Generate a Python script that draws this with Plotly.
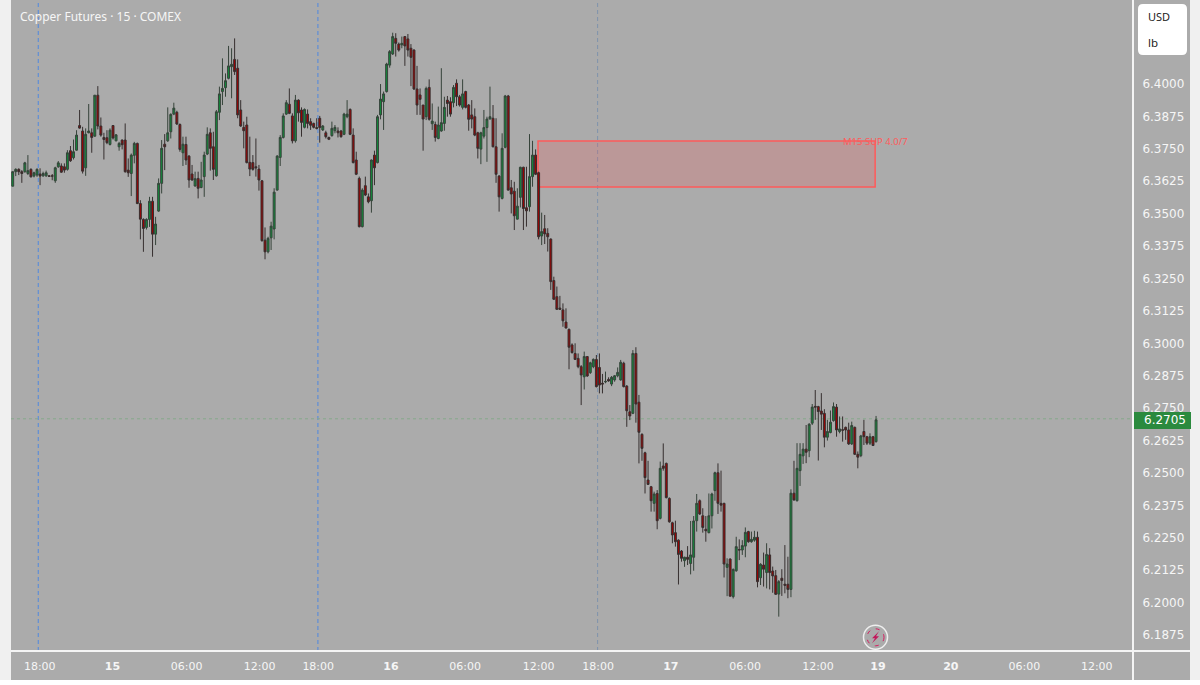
import plotly.graph_objects as go

opens = [6.3602,6.3658,6.3667,6.3658,6.3658,6.3651,6.3667,6.3641,6.3645,6.3649,
6.3642,6.3642,6.3642,6.3642,6.3623,6.3677,6.3680,6.3677,6.3667,6.3739,
6.3712,6.3741,6.3836,6.3815,6.3673,6.3808,6.3808,6.3795,6.3953,6.3834,
6.3790,6.3789,6.3763,6.3836,6.3777,6.3754,6.3780,6.3780,6.3664,6.3651,
6.3721,6.3767,6.3535,6.3474,6.3443,6.3474,6.3544,6.3417,6.3506,6.3613,
6.3764,6.3777,6.3812,6.3880,6.3887,6.3840,6.3731,6.3763,6.3718,6.3649,
6.3603,6.3632,6.3597,6.3639,6.3726,6.3808,6.3754,6.3642,6.3887,6.3967,
6.3982,6.4018,6.4063,6.4091,6.4057,6.3896,6.3829,6.3838,6.3694,6.3693,
6.3677,6.3668,6.3623,6.3394,6.3349,6.3403,6.3437,6.3587,6.3713,6.3790,
6.3880,6.3918,6.3873,6.3777,6.3934,6.3896,6.3829,6.3880,6.3851,6.3844,
6.3828,6.3864,6.3819,6.3808,6.3790,6.3797,6.3816,6.3815,6.3815,6.3802,
6.3870,6.3898,6.3799,6.3703,6.3632,6.3446,6.3604,6.3561,6.3546,6.3722,
6.3693,6.3877,6.3928,6.3967,6.4069,6.4112,6.4172,6.4150,6.4147,6.4179,
6.4170,6.4134,6.4127,6.3977,6.3954,6.3915,6.3870,6.3983,6.3843,6.3840,
6.3786,6.3815,6.3844,6.3934,6.3928,6.3924,6.3999,6.3947,6.3906,6.3967,
6.3915,6.3877,6.3870,6.3808,6.3745,6.3795,6.3828,6.3861,6.3864,6.3754,
6.3641,6.3555,6.3752,6.3950,6.3596,6.3583,6.3475,6.3559,6.3675,6.3519,
6.3523,6.3639,6.3722,6.3654,6.3410,6.3438,6.3420,6.3398,6.3238,6.3176,
6.3132,6.3125,6.3078,6.3050,6.2990,6.2957,6.2938,6.2906,6.2867,6.2945,
6.2883,6.2906,6.2934,6.2903,6.2842,6.2847,6.2857,6.2839,6.2855,6.2871,
6.2855,6.2919,6.2831,6.2732,6.2726,6.2957,6.2769,6.2645,6.2574,6.2469,
6.2443,6.2379,6.2417,6.2321,6.2523,6.2533,6.2398,6.2304,6.2266,6.2237,
6.2195,6.2158,6.2171,6.2147,6.2171,6.2312,6.2389,6.2331,6.2279,6.2266,
6.2331,6.2428,6.2497,6.2379,6.2379,6.2132,6.2164,6.2019,6.2119,6.2201,
6.2199,6.2214,6.2270,6.2231,6.2237,6.2248,6.2092,6.2141,6.2112,6.2180,
6.2118,6.2100,6.2029,6.2090,6.2067,6.2067,6.2047,6.2418,6.2389,6.2505,
6.2562,6.2588,6.2582,6.2688,6.2753,6.2752,6.2735,6.2726,6.2634,6.2652,
6.2698,6.2750,6.2656,6.2663,6.2672,6.2662,6.2608,6.2672,6.2568,6.2563,
6.2656,6.2636,6.2611,6.2636,6.2617]

highs = [6.3658,6.3671,6.3671,6.3664,6.3696,6.3722,6.3671,6.3658,6.3671,6.3671,
6.3658,6.3662,6.3645,6.3649,6.3677,6.3699,6.3690,6.3690,6.3741,6.3757,
6.3782,6.3818,6.3896,6.3831,6.3825,6.3919,6.3825,6.3953,6.3988,6.3867,
6.3808,6.3818,6.3825,6.3838,6.3803,6.3773,6.3782,6.3844,6.3709,6.3728,
6.3773,6.3770,6.3548,6.3478,6.3478,6.3561,6.3561,6.3484,6.3632,6.3780,
6.3803,6.3906,6.3883,6.3924,6.3893,6.3844,6.3793,6.3793,6.3722,6.3684,
6.3658,6.3658,6.3696,6.3735,6.3829,6.3825,6.3812,6.3896,6.3986,6.4095,
6.4037,6.4143,6.4134,6.4172,6.4091,6.3934,6.3851,6.3870,6.3793,6.3722,
6.3786,6.3684,6.3626,6.3443,6.3407,6.3465,6.3594,6.3722,6.3799,6.3883,
6.3934,6.3979,6.3883,6.3954,6.3937,6.3906,6.3902,6.3898,6.3864,6.3847,
6.3864,6.3873,6.3838,6.3816,6.3793,6.3851,6.3838,6.3829,6.3819,6.3885,
6.3934,6.3902,6.3825,6.3735,6.3639,6.3594,6.3639,6.3574,6.3705,6.3739,
6.3877,6.3996,6.3967,6.4078,6.4127,6.4194,6.4192,6.4156,6.4179,6.4181,
6.4189,6.4150,6.4130,6.4066,6.3979,6.3915,6.3986,6.4014,6.3921,6.3851,
6.3909,6.4057,6.3947,6.3950,6.3945,6.3992,6.4014,6.3954,6.4014,6.3970,
6.3919,6.3934,6.3902,6.3812,6.3812,6.3896,6.3870,6.3986,6.3915,6.3864,
6.3645,6.3806,6.3954,6.3954,6.3626,6.3619,6.3594,6.3677,6.3677,6.3677,
6.3803,6.3777,6.3744,6.3658,6.3500,6.3491,6.3440,6.3401,6.3253,6.3215,
6.3179,6.3150,6.3131,6.3053,6.2996,6.2996,6.2957,6.2912,6.2964,6.2947,
6.2925,6.2938,6.2951,6.2957,6.2878,6.2887,6.2865,6.2870,6.2874,6.2903,
6.2932,6.2925,6.2835,6.2758,6.2970,6.2981,6.2797,6.2649,6.2578,6.2543,
6.2446,6.2424,6.2430,6.2540,6.2610,6.2536,6.2402,6.2308,6.2312,6.2240,
6.2199,6.2173,6.2214,6.2311,6.2330,6.2415,6.2394,6.2360,6.2330,6.2417,
6.2420,6.2501,6.2533,6.2505,6.2381,6.2167,6.2167,6.2128,6.2250,6.2240,
6.2237,6.2286,6.2273,6.2270,6.2273,6.2270,6.2148,6.2189,6.2225,6.2206,
6.2135,6.2122,6.2083,6.2125,6.2218,6.2173,6.2433,6.2543,6.2611,6.2611,
6.2611,6.2681,6.2688,6.2762,6.2816,6.2755,6.2804,6.2742,6.2701,6.2737,
6.2768,6.2762,6.2714,6.2714,6.2675,6.2690,6.2694,6.2675,6.2579,6.2643,
6.2701,6.2639,6.2649,6.2639,6.2716]

lows = [6.3602,6.3641,6.3645,6.3615,6.3654,6.3645,6.3636,6.3636,6.3638,6.3606,
6.3638,6.3638,6.3638,6.3625,6.3615,6.3673,6.3654,6.3654,6.3662,6.3696,
6.3705,6.3739,6.3824,6.3651,6.3642,6.3806,6.3731,6.3793,6.3821,6.3793,
6.3705,6.3764,6.3759,6.3782,6.3775,6.3739,6.3744,6.3654,6.3638,6.3564,
6.3690,6.3533,6.3397,6.3349,6.3435,6.3445,6.3330,6.3375,6.3503,6.3574,
6.3664,6.3773,6.3786,6.3876,6.3838,6.3735,6.3680,6.3684,6.3596,6.3623,
6.3600,6.3555,6.3594,6.3561,6.3722,6.3662,6.3626,6.3639,6.3857,6.3915,
6.3947,6.4014,6.3941,6.4031,6.3864,6.3831,6.3748,6.3690,6.3641,6.3662,
6.3639,6.3585,6.3388,6.3320,6.3343,6.3356,6.3397,6.3585,6.3680,6.3786,
6.3877,6.3880,6.3767,6.3770,6.3851,6.3793,6.3825,6.3825,6.3819,6.3825,
6.3821,6.3770,6.3815,6.3786,6.3780,6.3793,6.3806,6.3790,6.3789,6.3799,
6.3864,6.3799,6.3690,6.3645,6.3443,6.3443,6.3564,6.3536,6.3500,6.3606,
6.3690,6.3860,6.3819,6.3963,6.4059,6.4108,6.4102,6.4121,6.4134,6.4066,
6.4102,6.3988,6.3973,6.3877,6.3877,6.3739,6.3857,6.3855,6.3819,6.3774,
6.3783,6.3812,6.3816,6.3870,6.3870,6.3906,6.3911,6.3909,6.3898,6.3902,
6.3816,6.3825,6.3795,6.3709,6.3687,6.3786,6.3696,6.3860,6.3752,6.3615,
6.3504,6.3551,6.3748,6.3585,6.3497,6.3433,6.3474,6.3520,6.3433,6.3446,
6.3504,6.3600,6.3645,6.3397,6.3375,6.3379,6.3350,6.3202,6.3163,6.3125,
6.3125,6.3060,6.3054,6.2896,6.2957,6.2932,6.2900,6.2758,6.2818,6.2867,
6.2878,6.2900,6.2826,6.2803,6.2803,6.2842,6.2848,6.2831,6.2848,6.2865,
6.2852,6.2826,6.2674,6.2700,6.2723,6.2690,6.2533,6.2543,6.2417,6.2450,
6.2347,6.2347,6.2279,6.2317,6.2505,6.2398,6.2304,6.2225,6.2212,6.2066,
6.2154,6.2134,6.2141,6.2105,6.2119,6.2270,6.2334,6.2266,6.2231,6.2263,
6.2282,6.2389,6.2338,6.2347,6.2093,6.2021,6.2019,6.2012,6.2115,6.2160,
6.2180,6.2171,6.2227,6.2227,6.2231,6.2055,6.2064,6.2058,6.2051,6.2047,
6.2034,6.2026,6.1942,6.2022,6.2032,6.2013,6.2017,6.2389,6.2386,6.2446,
6.2531,6.2534,6.2557,6.2681,6.2701,6.2544,6.2662,6.2595,6.2621,6.2649,
6.2694,6.2636,6.2649,6.2617,6.2624,6.2604,6.2604,6.2566,6.2514,6.2557,
6.2604,6.2604,6.2604,6.2600,6.2613]

closes = [6.3658,6.3667,6.3658,6.3651,6.3692,6.3662,6.3638,6.3654,6.3667,6.3641,
6.3651,6.3654,6.3640,6.3641,6.3673,6.3692,6.3656,6.3664,6.3731,6.3700,
6.3735,6.3799,6.3826,6.3660,6.3802,6.3815,6.3790,6.3953,6.3834,6.3799,
6.3782,6.3770,6.3818,6.3788,6.3800,6.3767,6.3762,6.3658,6.3654,6.3722,
6.3767,6.3535,6.3475,6.3439,6.3474,6.3544,6.3417,6.3456,6.3613,6.3748,
6.3754,6.3808,6.3879,6.3903,6.3842,6.3744,6.3764,6.3703,6.3626,6.3626,
6.3631,6.3594,6.3626,6.3722,6.3802,6.3748,6.3667,6.3889,6.3958,6.3979,
6.4009,6.4066,6.4072,6.4044,6.3877,6.3834,6.3816,6.3693,6.3668,6.3667,
6.3673,6.3626,6.3392,6.3349,6.3401,6.3448,6.3579,6.3718,6.3790,6.3873,
6.3924,6.3883,6.3777,6.3934,6.3885,6.3848,6.3898,6.3844,6.3837,6.3829,
6.3825,6.3828,6.3834,6.3793,6.3783,6.3825,6.3829,6.3808,6.3793,6.3880,
6.3880,6.3802,6.3693,6.3648,6.3446,6.3587,6.3568,6.3542,6.3703,6.3673,
6.3870,6.3938,6.3958,6.4073,6.4121,6.4179,6.4153,6.4127,6.4153,6.4143,
6.4127,6.4099,6.3977,6.3915,6.3937,6.3861,6.3979,6.3860,6.3853,6.3790,
6.3838,6.3847,6.3906,6.3921,6.3880,6.3983,6.3947,6.3915,6.3958,6.3906,
6.3860,6.3861,6.3799,6.3748,6.3808,6.3828,6.3861,6.3870,6.3754,6.3648,
6.3561,6.3748,6.3950,6.3587,6.3572,6.3488,6.3525,6.3675,6.3516,6.3507,
6.3639,6.3722,6.3648,6.3407,6.3427,6.3418,6.3407,6.3234,6.3166,6.3127,
6.3127,6.3083,6.3055,6.2981,6.2960,6.2934,6.2906,6.2874,6.2945,6.2870,
6.2921,6.2934,6.2829,6.2835,6.2839,6.2849,6.2851,6.2865,6.2871,6.2884,
6.2923,6.2829,6.2736,6.2716,6.2957,6.2762,6.2653,6.2591,6.2478,6.2452,
6.2389,6.2415,6.2312,6.2514,6.2514,6.2401,6.2308,6.2257,6.2231,6.2182,
6.2167,6.2171,6.2163,6.2180,6.2311,6.2379,6.2338,6.2286,6.2273,6.2331,
6.2415,6.2497,6.2379,6.2372,6.2145,6.2145,6.2021,6.2124,6.2212,6.2199,
6.2216,6.2267,6.2231,6.2240,6.2248,6.2077,6.2144,6.2125,6.2182,6.2112,
6.2099,6.2028,6.2077,6.2081,6.2063,6.2047,6.2418,6.2392,6.2514,6.2568,
6.2588,6.2576,6.2684,6.2750,6.2750,6.2733,6.2723,6.2634,6.2656,6.2692,
6.2752,6.2662,6.2666,6.2661,6.2662,6.2608,6.2679,6.2568,6.2557,6.2639,
6.2636,6.2611,6.2636,6.2602,6.2701]

tick_bars = [8.9,32.8,57.2,81.2,100.5,124.4,148.8,173,192.6,216.5,240.9,264.9,284.6,308.6,332.8,356.6]
tick_labels = ["18:00","<b>15</b>","06:00","12:00","18:00","<b>16</b>","06:00","12:00","18:00",
               "<b>17</b>","06:00","12:00","<b>19</b>","<b>20</b>","06:00","12:00"]
price_ticks = [6.4000,6.3875,6.3750,6.3625,6.3500,6.3375,6.3250,6.3125,6.3000,6.2875,
               6.2750,6.2625,6.2500,6.2375,6.2250,6.2125,6.2000,6.1875]
session_bars = [8.4, 100.4, 192.4]
zone_top, zone_bottom = 6.3776, 6.3599
zone_start, zone_end = 172.8, 283.7
zone_label = "M15 SUP 4.0/7"
last_price = 6.2705

W, H = 1200, 685
L, R, T, B = 11, 1133, 0, 651
def px(x): return (x - L) / (R - L)
def py(y): return (B - y) / (B - T)

fig = go.Figure(go.Candlestick(
    x=list(range(len(opens))), open=opens, high=highs, low=lows, close=closes,
    increasing=dict(fillcolor="#12893a", line=dict(color="#36433a", width=1)),
    decreasing=dict(fillcolor="#a00000", line=dict(color="#362f2f", width=1)),
    whiskerwidth=0, hoverinfo="skip", showlegend=False))

shapes = []
def paper(**k):
    shapes.append(dict(xref="paper", yref="paper", layer="below", **k))

# window frame strips
paper(type="rect", x0=px(0), x1=px(L), y0=py(0), y1=py(H), fillcolor="#f0f0f0", line_width=0)
paper(type="rect", x0=px(1190), x1=px(1200), y0=py(0), y1=py(H), fillcolor="#f0f0f0", line_width=0)
paper(type="rect", x0=px(0), x1=px(1200), y0=py(680), y1=py(H), fillcolor="#ffffff", line_width=0)

for b in session_bars:
    shapes.append(dict(type="line", xref="x", yref="paper", x0=b, x1=b, y0=0, y1=1, layer="below",
                       line=dict(color="#4f88e0" if b != session_bars[2] else "#7f93ad", width=1, dash="4px,3px")))
shapes.append(dict(type="line", xref="paper", yref="y", x0=0, x1=1, y0=last_price, y1=last_price, layer="below",
                   line=dict(color="#86a98c", width=1, dash="dot")))
shapes.append(dict(type="rect", xref="x", yref="y", x0=zone_start, x1=zone_end, y0=zone_bottom, y1=zone_top,
                   layer="below", fillcolor="rgba(255,82,82,0.2)", line=dict(color="#ff5a5a", width=1.5)))

# axis separators
shapes.append(dict(type="line", xref="paper", yref="paper", x0=px(11), x1=px(1190), y0=0, y1=0, line=dict(color="#f4f4f4", width=2)))
shapes.append(dict(type="line", xref="paper", yref="paper", x0=1, x1=1, y0=py(0), y1=py(680), line=dict(color="#f4f4f4", width=2)))

# price tag
shapes.append(dict(type="rect", xref="paper", yref="paper", x0=px(1134), x1=px(1191), y0=py(429), y1=py(412),
                   fillcolor="#2b8a3e", line_width=0))

# unit box
x0, x1, y0, y1, r = px(1138), px(1187), py(4), py(55), 5
rx, ry = r / (R - L), r / (B - T)
shapes.append(dict(type="path", xref="paper", yref="paper", fillcolor="#ffffff", line_width=0,
    path=f"M {x0+rx},{y0} L {x1-rx},{y0} Q {x1},{y0} {x1},{y0-ry} L {x1},{y1+ry} Q {x1},{y1} {x1-rx},{y1} "
         f"L {x0+rx},{y1} Q {x0},{y1} {x0},{y1+ry} L {x0},{y0-ry} Q {x0},{y0} {x0+rx},{y0} Z"))

# bolt badge
cx, cy = 875.5, 637.3
shapes.append(dict(type="circle", xref="paper", yref="paper", x0=px(cx-12), x1=px(cx+12), y0=py(cy+12), y1=py(cy-12),
                   fillcolor="#ababab", line=dict(color="#eeeeee", width=1.5)))
shapes.append(dict(type="circle", xref="paper", yref="paper", x0=px(cx-8.5), x1=px(cx+8.5), y0=py(cy+8.5), y1=py(cy-8.5),
                   line=dict(color="#d81b60", width=1, dash="4px,6px")))
pts = [(cx+3.5,cy-6),(cx-3.5,cy+1),(cx-0.5,cy+1),(cx-3.5,cy+6),(cx+3.5,cy-1),(cx+0.5,cy-1)]
shapes.append(dict(type="path", xref="paper", yref="paper", fillcolor="#c2185b", line_width=0,
    path="M " + " L ".join(f"{px(a)},{py(b)}" for a, b in pts) + " Z"))

def note(x, y, text, size, color, anchor="left", family="Noto Sans"):
    return dict(xref="paper", yref="paper", x=px(x), y=py(y), text=text, showarrow=False, xanchor=anchor,
                yanchor="middle", font=dict(family=family, size=size, color=color))

annotations = [
    note(17.5, 16, "Copper Futures · 15 · COMEX", 12, "#f6f6f6"),
    note(1145.5, 17, "USD", 11, "#222222"),
    note(1145.5, 43, "lb", 11.5, "#222222"),
    note(1141.5, 420, f"{last_price:.4f}", 12, "#ffffff", family="DejaVu Sans"),
    dict(xref="x", yref="y", x=zone_end, y=zone_top, text=zone_label, showarrow=False, xanchor="center",
         yanchor="middle", font=dict(family="Noto Sans", size=9.5, color="#ff5a5a")),
]

fig.update_layout(
    width=W, height=H, margin=dict(l=L, r=W-R, t=T, b=H-B, pad=0),
    paper_bgcolor="#ababab", plot_bgcolor="#ababab", font=dict(family="DejaVu Sans", color="#f2f2f2"),
    shapes=shapes, annotations=annotations, showlegend=False, boxgap=0.1, hovermode=False,
    xaxis=dict(range=[(L-12.7)/3.04, (R-12.7)/3.04], tickmode="array", tickvals=tick_bars, ticktext=tick_labels,
               showgrid=False, zeroline=False, rangeslider=dict(visible=False), showline=False,
               ticks="outside", ticklen=5, tickcolor="rgba(0,0,0,0)", tickfont=dict(size=11, family="DejaVu Sans", color="#f6f6f6")),
    yaxis=dict(range=[6.4+(83-B)/2593, 6.4+83/2593], side="right", tickmode="array", tickvals=price_ticks,
               ticktext=[f"{v:.4f}" for v in price_ticks], showgrid=False, zeroline=False, showline=False,
               ticks="outside", ticklen=6, ticklabelshift=1, tickcolor="rgba(0,0,0,0)",
               tickfont=dict(size=12, family="DejaVu Sans", color="#f6f6f6")),
)
fig.write_html("out.html", config=dict(displayModeBar=False),
               post_script="document.body.style.margin='0';document.body.style.overflow='hidden';")
